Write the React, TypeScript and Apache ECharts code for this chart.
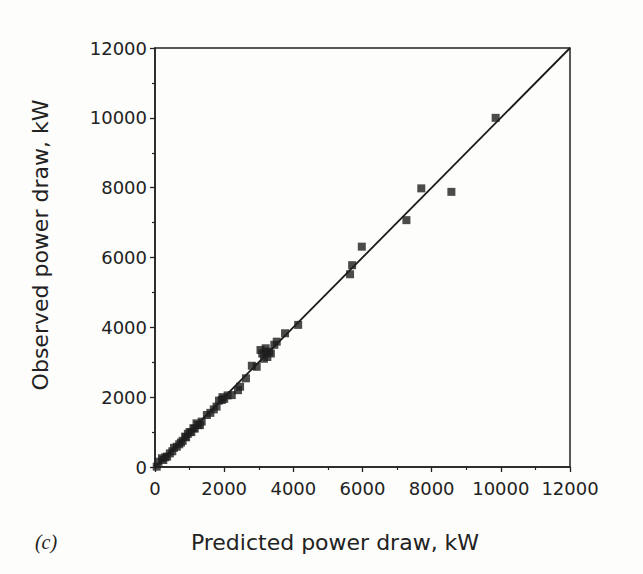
import React, { useEffect, useRef } from "react";
import * as echarts from "echarts";

const predicted = [
  9850, 7700, 8570, 7270, 5980, 5700, 5640,
  4140, 3760, 3520, 3100, 3200, 3250, 3300, 3150, 3350, 3200, 3450, 3050,
  2940, 2800, 2630, 2460, 2400, 2220, 2100, 1930, 1950, 2000, 1850, 1780, 1700, 1600, 1500,
  1350, 1300, 1250, 1200, 1150, 1110, 1050, 1000, 950, 900, 870, 800, 750, 700, 630, 550, 500,
  430, 350, 300, 240, 200, 100, 50,
];
const observed = [
  10000, 7980, 7880, 7070, 6310, 5780, 5520,
  4070, 3830, 3590, 3250, 3400, 3150, 3300, 3100, 3250, 3300, 3500, 3350,
  2870, 2900, 2540, 2300, 2200, 2060, 2050, 1920, 2000, 1950, 1900, 1730, 1650, 1550, 1490,
  1300, 1200, 1200, 1250, 1100, 1110, 1000, 1000, 950, 850, 870, 750, 700, 650, 580, 550, 450,
  390, 300, 280, 200, 250, 150, 10,
];
const identityLine = [0, 12000];
const tickValues = [0, 2000, 4000, 6000, 8000, 10000, 12000];

const xTitle = "Predicted power draw, kW";
const yTitle = "Observed power draw, kW";
const panelLabel = "(c)";

export default function App() {
  const ref = useRef<HTMLDivElement>(null);
  useEffect(() => {
    if (!ref.current) return;
    const chart = echarts.init(ref.current, undefined, { renderer: "svg" });
    const axisCommon = {
      type: "value" as const,
      min: tickValues[0],
      max: tickValues[tickValues.length - 1],
      interval: 2000,
      axisLine: { show: true, lineStyle: { color: "#222", width: 1.5 } },
      axisTick: { show: true, length: 5, lineStyle: { color: "#222", width: 1.3 } },
      minorTick: { show: true, splitNumber: 2, length: 3, lineStyle: { color: "#222", width: 1.2 } },
      splitLine: { show: false },
      axisLabel: {
        color: "#222",
        fontFamily: "DejaVu Sans",
        fontSize: 18,
        formatter: (v: number) => String(v),
      },
    };
    chart.setOption({
      animation: false,
      backgroundColor: "#fdfdfb",
      grid: {
        left: 155,
        top: 48,
        right: 73,
        bottom: 107,
        show: true,
        borderColor: "#222",
        borderWidth: 1.5,
        backgroundColor: "transparent",
      },
      xAxis: {
        ...axisCommon,
        axisLabel: { ...axisCommon.axisLabel, margin: 12 },
      },
      yAxis: {
        ...axisCommon,
        axisLabel: { ...axisCommon.axisLabel, margin: 8 },
      },
      series: [
        {
          type: "line",
          data: identityLine.map((v) => [v, v]),
          symbol: "none",
          lineStyle: { color: "#1a1a1a", width: 1.8 },
          z: 2,
        },
        {
          type: "scatter",
          data: predicted.map((p, i) => [p, observed[i]]),
          symbol: "rect",
          symbolSize: 8,
          itemStyle: { color: "#1e1e1e" },
          z: 3,
        },
      ],
      graphic: [
        {
          type: "text",
          x: 40,
          y: 245,
          rotation: Math.PI / 2,
          style: {
            text: yTitle,
            fill: "#222",
            font: '22px "DejaVu Sans"',
            align: "center",
            verticalAlign: "middle",
          },
        },
        {
          type: "text",
          x: 335,
          y: 542,
          style: {
            text: xTitle,
            fill: "#222",
            font: '22px "DejaVu Sans"',
            align: "center",
            verticalAlign: "middle",
          },
        },
        {
          type: "text",
          x: 46,
          y: 542,
          style: {
            text: panelLabel,
            fill: "#222",
            font: 'italic 20px "Liberation Serif"',
            align: "center",
            verticalAlign: "middle",
          },
        },
      ],
    });
    return () => chart.dispose();
  }, []);
  return (
    <div
      ref={ref}
      style={{ position: "absolute", left: 0, top: 0, width: 643, height: 574 }}
    />
  );
}
